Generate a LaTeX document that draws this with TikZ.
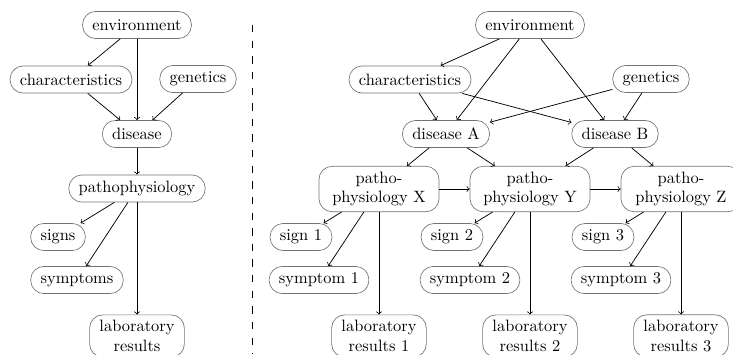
\documentclass[tikz,border=0pt]{standalone}
\begin{document}
\begin{tikzpicture}[x=0.608pt,y=-0.608pt,
  box/.style={draw=black!55, rounded corners=8pt, inner xsep=6pt, inner ysep=3.3pt,
    minimum height=16.5pt, align=center},
  pbox/.style={box, minimum width=73pt},
  arr/.style={->, black, line width=0.45pt}]
\useasboundingbox (0,0) rectangle (733,354);
% left diagram
\node[box] (env) at (137,25) {environment};
\node[box] (char) at (71,79.5) {characteristics};
\node[box] (gen) at (198,79) {genetics};
\node[box] (dis) at (137,134) {disease};
\node[box] (path) at (137,188.5) {pathophysiology};
\node[box] (signs) at (58,237) {signs};
\node[box] (symp) at (77,280) {symptoms};
\node[box] (lab) at (137,336) {laboratory\\results};
\draw[arr] (env) -- (char);
\draw[arr] (env) -- (dis);
\draw[arr] (char) -- (dis);
\draw[arr] (gen) -- (dis);
\draw[arr] (dis) -- (path);
\draw[arr] (path) -- (signs);
\draw[arr] (path) -- (symp);
\draw[arr] (path) -- (lab);
% separator
\coordinate (dtop) at (252,25);
\coordinate (dbot) at (252,354);
\draw[black, line width=0.55pt, dash pattern=on 4.5pt off 5pt] (dtop) -- (dbot);
% right diagram
\node[box] (renv) at (530,25) {environment};
\node[box] (rchar) at (410,79.5) {characteristics};
\node[box] (rgen) at (651,79) {genetics};
\node[box] (dA) at (446,134) {disease A};
\node[box] (dB) at (615,134) {disease B};
\draw[arr] (renv) -- (rchar);
\draw[arr] (renv) -- (dA);
\draw[arr] (renv) -- (dB);
\draw[arr] (rchar) -- (dA);
\draw[arr] (rchar) -- (dB);
\draw[arr] (rgen) -- (dA);
\draw[arr] (rgen) -- (dB);
\foreach \L/\n/\x in {X/1/379, Y/2/530, Z/3/681} {
  \node[pbox] (p\n) at (\x,189) {patho-\\physiology \L};
  \node[box] (s\n) at (\x-78,237) {sign \n};
  \node[box] (y\n) at (\x-60,280) {symptom \n};
  \node[box] (l\n) at (\x,336) {laboratory\\results \n};
  \draw[arr] (p\n) -- (s\n);
  \draw[arr] (p\n) -- (y\n);
  \draw[arr] (p\n) -- (l\n);
}
\draw[arr] (dA) -- (p1);
\draw[arr] (dA) -- (p2);
\draw[arr] (dB) -- (p2);
\draw[arr] (dB) -- (p3);
\draw[arr] (p1) -- (p2);
\draw[arr] (p2) -- (p3);
\end{tikzpicture}
\end{document}
